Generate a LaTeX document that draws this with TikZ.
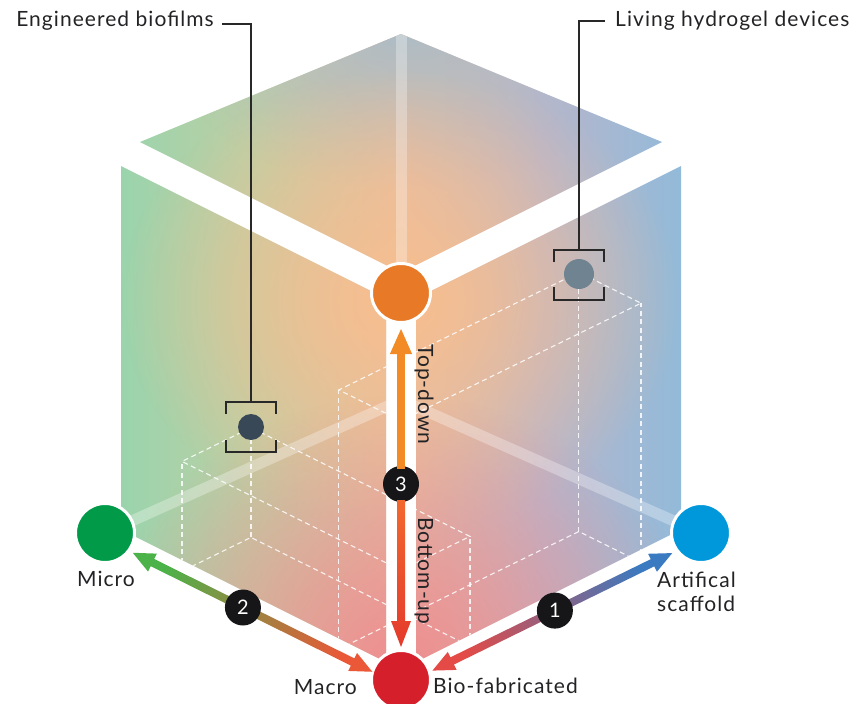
\documentclass[tikz,border=0pt]{standalone}
\usepackage{fontspec}
\setmainfont{Lato}[LetterSpace=5]
\usetikzlibrary{calc,arrows.meta,fadings}

% face colours
\definecolor{basegreen}{RGB}{154,212,172}
\definecolor{basegreenmid}{RGB}{192,206,164}
\definecolor{basemid}{RGB}{228,190,164}
\definecolor{basebluemid}{RGB}{184,182,204}
\definecolor{baseblue}{RGB}{146,186,217}
\definecolor{topcool}{RGB}{172,188,198}
\definecolor{glowpeach}{RGB}{248,190,142}
\definecolor{glowpink}{RGB}{238,142,144}
% markers and arrows
\definecolor{vgreen}{RGB}{0,154,73}
\definecolor{vblue}{RGB}{0,152,218}
\definecolor{vorange}{RGB}{232,121,38}
\definecolor{vred}{RGB}{213,31,42}
\definecolor{dotdark}{RGB}{56,72,86}
\definecolor{dotgray}{RGB}{112,131,145}
\definecolor{numblack}{RGB}{22,22,24}
\definecolor{labeltext}{RGB}{35,35,38}
\definecolor{leadgray}{RGB}{40,40,40}
\definecolor{arrorange}{RGB}{242,138,38}
\definecolor{arrgreen}{RGB}{76,178,74}
\definecolor{arrred}{RGB}{234,88,56}
\definecolor{arrbiored}{RGB}{228,74,70}
\definecolor{arrblue}{RGB}{58,122,192}
\definecolor{arrdownA}{RGB}{242,104,46}
\definecolor{arrdownB}{RGB}{228,58,44}

\pgfdeclarehorizontalshading{cubebase}{100bp}{color(0bp)=(basegreen); color(25bp)=(basegreen); color(37.5bp)=(basegreenmid); color(50bp)=(basemid); color(62.5bp)=(basebluemid); color(75bp)=(baseblue); color(100bp)=(baseblue)}
\tikzfading[name=softglow, inner color=transparent!0, outer color=transparent!100]

% the three faces of the exploded cube
\def\cubefaces{(401,34) -- (662,142) -- (401,272.5) -- (140,142) -- cycle
 (121,166) -- (386,298.5) -- (386,662) -- (121,529.5) -- cycle
 (681,166) -- (416,298.5) -- (416,662) -- (681,529.5) -- cycle}

% dashed wire-frame cuboid spanned from the origin corner
\newcommand\wirebox[3]{%
 \draw[dashedge] (0,0,0) -- (#1,0,0) -- (#1,#2,0) -- (0,#2,0) -- cycle;
 \draw[dashedge] (0,0,#3) -- (#1,0,#3) -- (#1,#2,#3) -- (0,#2,#3) -- cycle;
 \draw[dashedge] (0,0,0) -- (0,0,#3) (#1,0,0) -- (#1,0,#3) (#1,#2,0) -- (#1,#2,#3) (0,#2,0) -- (0,#2,#3);}

% double-headed arrow outline between two named points, filled with a shading
\newcommand\dualarrow[5]{%
 \coordinate (da-a) at ($(#2)!#4!(#3)$);
 \coordinate (da-b) at ($(#3)!#5!(#2)$);
 \coordinate (da-ha) at ($(da-a)!22pt!(da-b)$);
 \coordinate (da-hb) at ($(da-b)!22pt!(da-a)$);
 \shade[#1] (da-a) -- ($(da-ha)!10pt!90:(da-b)$) -- ($(da-ha)!4pt!90:(da-b)$)
  -- ($(da-hb)!4pt!-90:(da-a)$) -- ($(da-hb)!10pt!-90:(da-a)$) -- (da-b)
  -- ($(da-hb)!10pt!90:(da-a)$) -- ($(da-hb)!4pt!90:(da-a)$)
  -- ($(da-ha)!4pt!-90:(da-b)$) -- ($(da-ha)!10pt!-90:(da-b)$) -- cycle;}

% single-headed arrow outline from #2 to #3
\newcommand\onearrow[5]{%
 \coordinate (oa-a) at ($(#2)!#4!(#3)$);
 \coordinate (oa-b) at ($(#3)!#5!(#2)$);
 \coordinate (oa-hb) at ($(oa-b)!26pt!(oa-a)$);
 \shade[#1] ($(oa-a)!4pt!90:(oa-b)$) -- ($(oa-hb)!4pt!-90:(oa-a)$) -- ($(oa-hb)!10pt!-90:(oa-a)$)
  -- (oa-b) -- ($(oa-hb)!10pt!90:(oa-a)$) -- ($(oa-hb)!4pt!90:(oa-a)$)
  -- ($(oa-a)!4pt!-90:(oa-b)$) -- cycle;}

\begin{document}
\begin{tikzpicture}[x=1pt,y=-1pt,
  lbl/.style={font=\fontsize{21}{24}\selectfont, text=labeltext, inner sep=0pt},
  vertex/.style={circle, draw=white, line width=3pt, minimum size=59pt, inner sep=0pt},
  num/.style={circle, fill=numblack, text=white, minimum size=36pt, inner sep=0pt, font=\fontsize{20}{20}\selectfont},
  marker/.style={circle, minimum size=26pt, inner sep=0pt},
  dashedge/.style={draw=white, draw opacity=0.85, line width=1.1pt, dash pattern=on 5pt off 3.5pt},
  hiddenedge/.style={draw=white, draw opacity=0.3, line width=11pt},
  leader/.style={draw=leadgray, line width=1.2pt},
  bracket/.style={draw=leadgray, line width=1.2pt}]
\useasboundingbox (0,0) rectangle (855,704);

% ---- cube faces with blended colour fields ----
\begin{scope}
  \clip \cubefaces;
  \shade[shading=cubebase] (121,30) rectangle (681,680);
  \fill[topcool, path fading=softglow] (401,30) ellipse [x radius=240pt, y radius=160pt];
  \fill[glowpeach, path fading=softglow] (401,300) ellipse [x radius=280pt, y radius=230pt];
  \fill[glowpink, path fading=softglow] (401,665) ellipse [x radius=300pt, y radius=270pt];
  % hidden edges of the cube
  \draw[hiddenedge] (401,34) -- (401,400);
  \draw[hiddenedge] (105,533) -- (401,400) -- (701,533);
  % regions occupied by the two examples
  \begin{scope}[shift={(401,680)}, x={(-296pt,147pt)}, y={(300pt,147pt)}, z={(0pt,360pt)}]
    \wirebox{0.74}{0.23}{0.305}
    \wirebox{0.21}{0.8}{0.72}
  \end{scope}
\end{scope}

% ---- corner markers ----
\node[vertex, fill=vorange] (top) at (401,293) {};
\node[vertex, fill=vgreen] (micro) at (105,533) {};
\node[vertex, fill=vblue] (artif) at (701,533) {};
\node[vertex, fill=vred] (bio) at (401,680) {};

% ---- axis arrows ----
\coordinate (m2a) at ($(micro)+(0,6)$);
\coordinate (m2b) at ($(bio)+(0,6)$);
\coordinate (m1a) at ($(bio)+(0,6)$);
\coordinate (m1b) at ($(artif)+(0,6)$);
\dualarrow{left color=arrgreen, right color=arrred, shading angle=63.6}{m2a}{m2b}{31pt}{32pt}
\dualarrow{left color=arrbiored, right color=arrblue, shading angle=116.1}{m1a}{m1b}{35pt}{32pt}

\node[num] (n3) at (401,484) {3};
\node[num] (n2) at ($(m2a)!0.466!(m2b)$) {2};
\node[num] (n1) at ($(m1a)!0.513!(m1b)$) {1};

\draw[line width=8pt, draw=arrorange, -{Triangle[width=20pt,length=26pt]},
      shorten <=15pt, shorten >=35pt] (n3.center) -- (top.center);
\onearrow{top color=arrdownA, bottom color=arrdownB}{n3}{bio}{16pt}{33pt}

% ---- text labels ----
\node[lbl, anchor=base] (lmicro) at (106,586) {Micro};
\node[lbl, anchor=base east] (lmacro) at (357,694) {Macro};
\node[lbl, anchor=base west] (lbio) at (433,693) {Bio-fabricated};
\node[lbl, anchor=base west] (lart1) at (657,587) {Artifical};
\node[lbl, anchor=base west] (lart2) at (657,611) {scaffold};
\node[lbl, rotate=-90, anchor=base west] (ltd) at (418,344) {Top-down};
\node[lbl, rotate=-90, anchor=base west] (lbu) at (418,517) {Bottom-up};

% ---- example: engineered biofilms ----
\node[marker, fill=dotdark] (bf) at (251,427) {};
\draw[bracket] (226,414) -- (226,402) -- (276,402) -- (276,414);
\draw[bracket] (226,440) -- (226,452) -- (276,452) -- (276,440);
\node[lbl, anchor=base east] (lbf) at (214,27) {Engineered biofilms};
\coordinate (bfl) at (222,24);
\coordinate (bfk) at (251,402);
\draw[leader] (bfl) -- (bfl -| bfk) -- (bfk);

% ---- example: living hydrogel devices ----
\node[marker, fill=dotgray, minimum size=30pt] (hg) at (579,274) {};
\draw[bracket] (554,262) -- (554,250) -- (604,250) -- (604,262);
\draw[bracket] (554,287) -- (554,300) -- (604,300) -- (604,287);
\node[lbl, anchor=base west] (lhg) at (615,27) {Living hydrogel devices};
\coordinate (hgl) at (605,21);
\coordinate (hgk) at (579,250);
\draw[leader] (hgl) -- (hgl -| hgk) -- (hgk);
\end{tikzpicture}
\end{document}
